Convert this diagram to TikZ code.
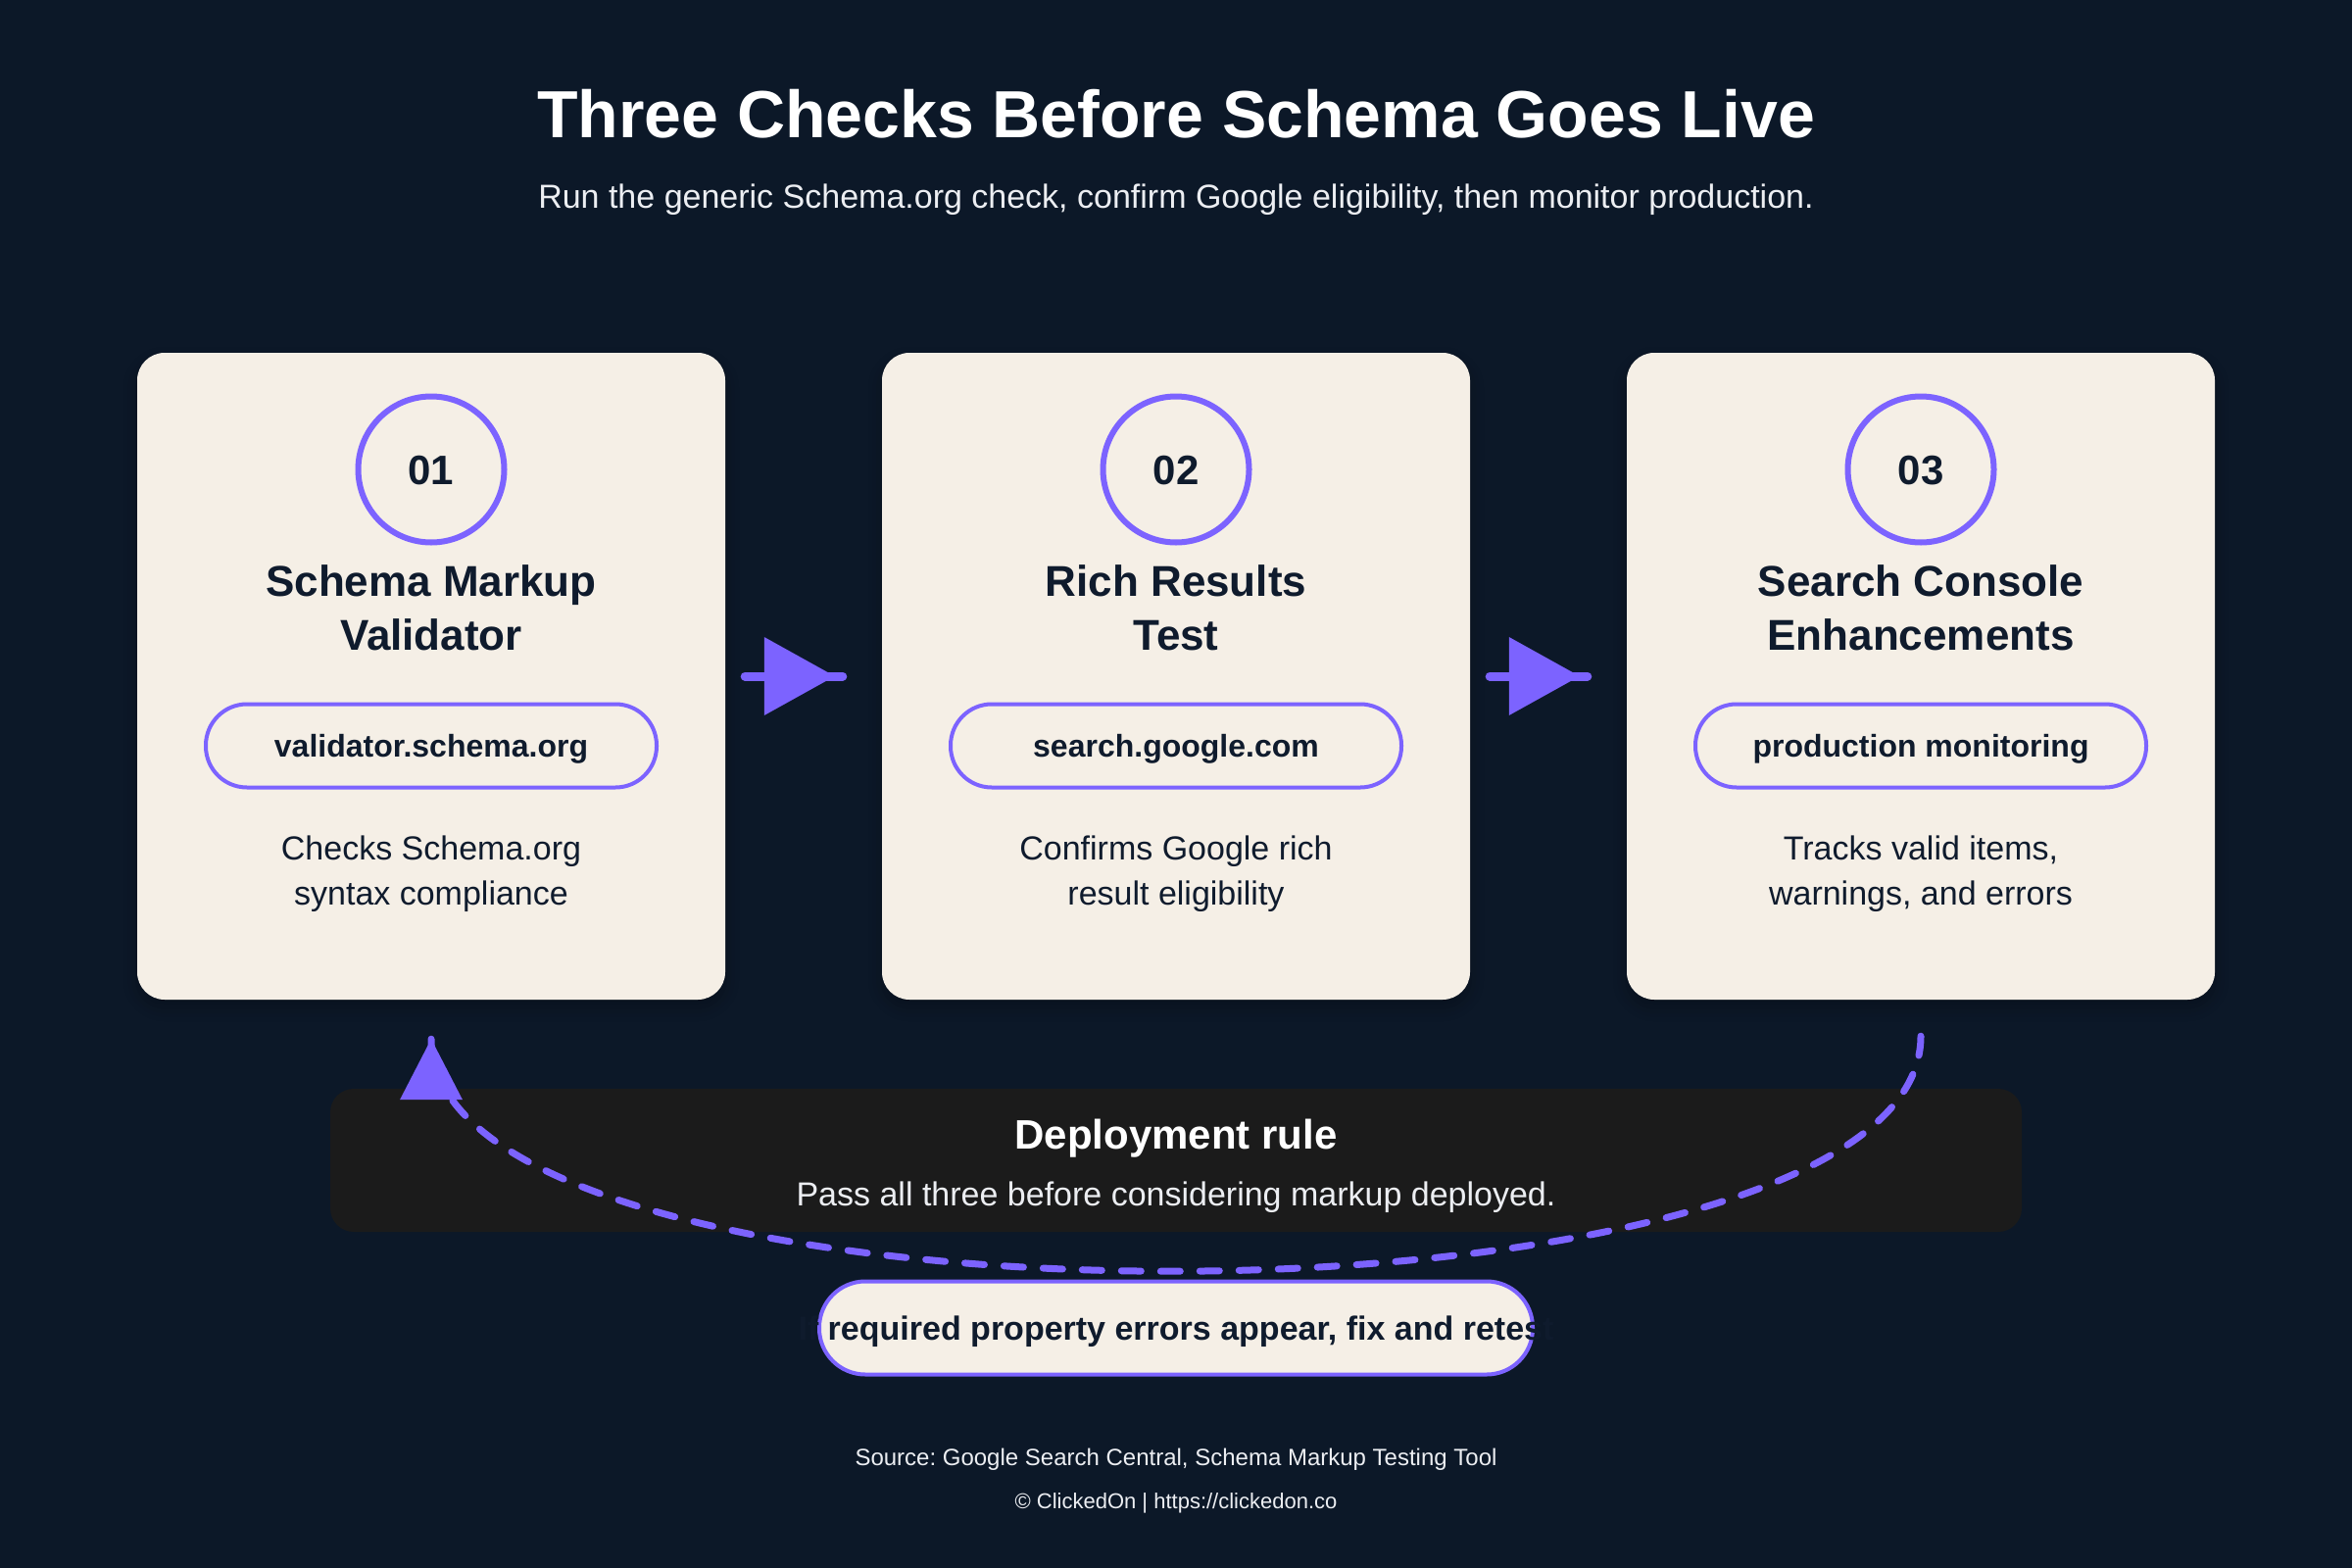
\documentclass[tikz,border=0pt]{standalone}
\usepackage{fontspec}
\setmainfont{Liberation Sans}
\usetikzlibrary{arrows.meta,calc,shadows.blur}
\definecolor{bgnavy}{RGB}{12,24,40}
\definecolor{cardcream}{RGB}{245,239,230}
\definecolor{accent}{RGB}{124,99,255}
\definecolor{inknavy}{RGB}{15,27,45}
\definecolor{panelgray}{RGB}{27,27,27}
\definecolor{softwhite}{RGB}{236,238,242}
\frenchspacing

\begin{document}
\begin{tikzpicture}[x=1pt,y=1pt,yscale=-1,xscale=1,
	card/.style={rectangle,rounded corners=28pt,fill=cardcream,minimum width=600pt,minimum height=660pt,inner sep=0pt,
		blur shadow={shadow xshift=0pt,shadow yshift=-8pt,shadow blur radius=14pt,shadow opacity=25}},
	badge/.style={circle,draw=accent,line width=6pt,fill=cardcream,minimum size=149pt,inner sep=0pt,text=inknavy,font=\fontsize{42}{50}\selectfont\bfseries,text height=30pt,text depth=0pt},
	cardtitle/.style={anchor=base,inner sep=0pt,text=inknavy,font=\fontsize{44}{55}\selectfont\bfseries},
	urlpill/.style={rectangle,rounded corners=42pt,draw=accent,line width=4pt,minimum width=460pt,minimum height=85pt,inner sep=0pt,text=inknavy,font=\fontsize{32}{38}\selectfont\bfseries,text height=23pt,text depth=0pt},
	cardtext/.style={anchor=base,inner sep=0pt,text=inknavy,font=\fontsize{34}{46}\selectfont},
	flow/.style={draw=accent,line width=9pt,line cap=round},
	flowhead/.style={draw=accent,fill=accent,line width=9pt,-{Triangle[length=72pt,width=80pt,line width=0pt]}},
	loopline/.style={draw=accent,line width=7pt,line cap=round,dash pattern=on 20pt off 20pt},
	loophead/.style={draw=accent,fill=accent,line width=7pt,-{Triangle[length=62pt,width=64pt,line width=0pt]}},
	]
	% Background
	\useasboundingbox (0,0) rectangle (2400,1600);
	\fill[bgnavy] (0,0) rectangle (2400,1600);
	
	% Heading
	\node[anchor=base,inner sep=0pt,text=white,font=\fontsize{68}{80}\selectfont\bfseries] (headline) at (1200,140) {Three Checks Before Schema Goes Live};
	\node[anchor=base,inner sep=0pt,text=softwhite,font=\fontsize{34}{40}\selectfont] (subline) at (1200,212) {Run the generic Schema.org check, confirm Google eligibility, then monitor production.};
	
	% Card 1
	\node[card] (card1) at (440,690) {};
	\node[badge] (badge1) at (440,479) {01};
	\node[cardtitle] (name1a) at (440,608) {Schema Markup};
	\node[cardtitle] (name1b) at (440,663) {Validator};
	\node[urlpill] (url1) at (440,761) {validator.schema.org};
	\node[cardtext] (note1a) at (440,877) {Checks Schema.org};
	\node[cardtext] (note1b) at (440,923) {syntax compliance};
	
	% Card 2
	\node[card] (card2) at (1200,690) {};
	\node[badge] (badge2) at (1200,479) {02};
	\node[cardtitle] (name2a) at (1200,608) {Rich Results};
	\node[cardtitle] (name2b) at (1200,663) {Test};
	\node[urlpill] (url2) at (1200,761) {search.google.com};
	\node[cardtext] (note2a) at (1200,877) {Confirms Google rich};
	\node[cardtext] (note2b) at (1200,923) {result eligibility};
	
	% Card 3
	\node[card] (card3) at (1960,690) {};
	\node[badge] (badge3) at (1960,479) {03};
	\node[cardtitle] (name3a) at (1960,608) {Search Console};
	\node[cardtitle] (name3b) at (1960,663) {Enhancements};
	\node[urlpill] (url3) at (1960,761) {production monitoring};
	\node[cardtext] (note3a) at (1960,877) {Tracks valid items,};
	\node[cardtext] (note3b) at (1960,923) {warnings, and errors};
	
	% Connection
	\draw[flow] ($(card1.east)+(20,0)$) -- ($(card2.west)+(-40,0)$);
	\draw[flowhead] ($(card1.east)+(40,0)$) -- ($(card2.west)+(-48,0)$);
	% Connection
	\draw[flow] ($(card2.east)+(20,0)$) -- ($(card3.west)+(-40,0)$);
	\draw[flowhead] ($(card2.east)+(40,0)$) -- ($(card3.west)+(-48,0)$);
	
	% Rule panel
	\node[rectangle,rounded corners=24pt,fill=panelgray,minimum width=1726pt,minimum height=146pt,inner sep=0pt] (panel) at (1200,1184) {};
	\node[anchor=base,inner sep=0pt,text=white,font=\fontsize{42}{50}\selectfont\bfseries] (ruletitle) at (1200,1172) {Deployment rule};
	\node[anchor=base,inner sep=0pt,text=softwhite,font=\fontsize{34}{40}\selectfont] (ruletext) at (1200,1230) {Pass all three before considering markup deployed.};
	
	% Loop back
	\draw[loopline] ($(card3.south)+(0,37)$) .. controls +(0,318) and +(0,318) .. ($(card1.south)+(0,40)$);
	\draw[loophead] ($(card1.south)+(0,102)$) -- ($(card1.south)+(0,40)$);
	
	% Retest pill
	\node[rectangle,rounded corners=47pt,draw=accent,line width=4pt,fill=cardcream,minimum width=728pt,minimum height=95pt,inner sep=0pt] (retest) at (1200,1355) {};
	\node[inner sep=0pt,text=inknavy,font=\fontsize{34}{40}\selectfont\bfseries,text height=24pt,text depth=0pt] (retesttext) at (retest) {If required property errors appear, fix and retest};
	
	% Footer
	\node[anchor=base,inner sep=0pt,text=softwhite,font=\fontsize{24}{28}\selectfont] (source) at (1200,1495) {Source: Google Search Central, Schema Markup Testing Tool};
	\node[anchor=base,inner sep=0pt,text=softwhite,font=\fontsize{22}{26}\selectfont] (credit) at (1200,1539) {© ClickedOn | https://clickedon.co};
	
\end{tikzpicture}
\end{document}
